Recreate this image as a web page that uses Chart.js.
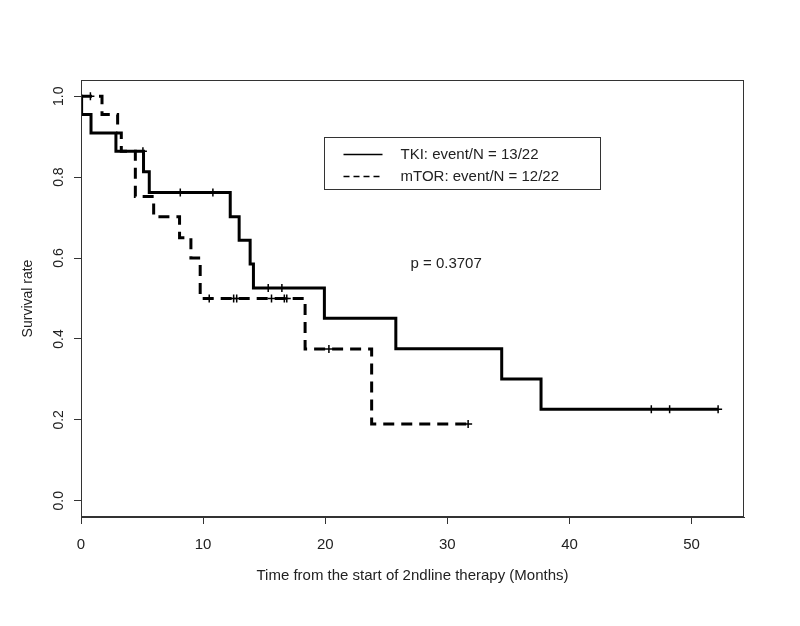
<!DOCTYPE html>
<html><head><meta charset="utf-8">
<script src="https://cdn.jsdelivr.net/npm/chart.js@4.4.1/dist/chart.umd.min.js"></script>
<style>html,body{margin:0;padding:0;background:#fff;}#wrap{width:800px;height:626px;}</style>
</head><body><div id="wrap"><canvas id="c" width="800" height="626"></canvas></div>
<script>
// ---- data ----
const xTicks = [0, 10, 20, 30, 40, 50];
const yTicks = [0, 0.2, 0.4, 0.6, 0.8, 1.0];
const yTickLabels = ['0.0', '0.2', '0.4', '0.6', '0.8', '1.0'];

const tkiTime = [0, 0.05, 0.82, 2.86, 5.12, 5.59, 12.22, 12.95, 13.85, 14.12, 19.93, 25.78, 34.45, 37.67, 52.17];
const tkiSurv = [1, 0.955, 0.909, 0.864, 0.813, 0.762, 0.702, 0.644, 0.585, 0.526, 0.451, 0.376, 0.301, 0.226, 0.226];
const tkiCensorTime = [5.07, 8.13, 10.8, 15.33, 16.45, 46.7, 48.2, 52.17];
const tkiCensorSurv = [0.864, 0.762, 0.762, 0.526, 0.526, 0.226, 0.226, 0.226];

const mtorTime = [0, 1.72, 3.0, 3.3, 4.45, 5.95, 8.07, 9.0, 9.76, 18.35, 23.8, 31.7];
const mtorSurv = [1, 0.955, 0.909, 0.864, 0.752, 0.702, 0.65, 0.60, 0.50, 0.375, 0.19, 0.19];
const mtorCensorTime = [0.77, 10.5, 12.5, 12.75, 15.6, 16.65, 16.85, 20.3, 31.7];
const mtorCensorSurv = [1, 0.5, 0.5, 0.5, 0.5, 0.5, 0.5, 0.375, 0.19];

const seriesNames = ['TKI: event/N = 13/22', 'mTOR: event/N = 12/22'];
const xTitle = 'Time from the start of 2ndline therapy (Months)';
const yTitle = 'Survival rate';
const pText = 'p = 0.3707';

// ---- styling / layout ----
const hFont = {family: '"Liberation Sans", Arial', size: 15};
const vFont = {family: '"Liberation Sans", Arial', size: 14};
const txt = '#222';
const axisCol = '#333';
const legendAt = [20, 0.9];
const pAt = [29.9, 0.585];

const pts = (xs, ys) => xs.map((v, i) => ({x: v, y: ys[i]}));

const overlay = {
  id: 'overlay',
  afterDraw(chart){
    const {ctx, chartArea: a, scales: {x, y}} = chart;
    ctx.save();
    ctx.strokeStyle = axisCol; ctx.lineWidth = 1; ctx.setLineDash([]);
    ctx.strokeRect(a.left + 0.5, a.top + 0.5, a.right - a.left - 1, a.bottom - a.top - 1);
    // legend
    const lx = Math.round(x.getPixelForValue(legendAt[0])) - 0.5;
    const ly = Math.round(y.getPixelForValue(legendAt[1])) + 0.5;
    ctx.strokeRect(lx, ly, 276, 52);
    ctx.font = hFont.size + 'px ' + hFont.family;
    ctx.fillStyle = txt; ctx.textBaseline = 'middle'; ctx.textAlign = 'left';
    const rows = [ly + 17, ly + 39];
    ctx.strokeStyle = '#000'; ctx.lineWidth = 1.5;
    ctx.beginPath(); ctx.moveTo(lx + 19, rows[0]); ctx.lineTo(lx + 58, rows[0]); ctx.stroke();
    ctx.setLineDash([6, 4]);
    ctx.beginPath(); ctx.moveTo(lx + 19, rows[1]); ctx.lineTo(lx + 58, rows[1]); ctx.stroke();
    ctx.setLineDash([]);
    ctx.fillText(seriesNames[0], lx + 76, rows[0]);
    ctx.fillText(seriesNames[1], lx + 76, rows[1]);
    // p value
    ctx.textAlign = 'center';
    ctx.fillText(pText, x.getPixelForValue(pAt[0]), y.getPixelForValue(pAt[1]));
    ctx.restore();
  }
};

new Chart(document.getElementById('c'), {
  type: 'scatter',
  data: {
    datasets: [
      {label: seriesNames[0], data: pts(tkiTime, tkiSurv), showLine: true, stepped: true,
       borderColor: '#000', borderWidth: 3, pointRadius: 0, fill: false, borderJoinStyle: 'miter'},
      {label: seriesNames[1], data: pts(mtorTime, mtorSurv), showLine: true, stepped: true,
       borderColor: '#000', borderWidth: 3, borderDash: [11, 7], pointRadius: 0, fill: false, borderJoinStyle: 'miter'},
      {label: 'tki censored', data: pts(tkiCensorTime, tkiCensorSurv), showLine: false,
       pointStyle: 'cross', pointRadius: 4, borderWidth: 1.5, borderColor: '#000'},
      {label: 'mtor censored', data: pts(mtorCensorTime, mtorCensorSurv), showLine: false,
       pointStyle: 'cross', pointRadius: 4, borderWidth: 1.5, borderColor: '#000'}
    ]
  },
  options: {
    responsive: false, animation: false, devicePixelRatio: 1,
    layout: {padding: {top: 80, right: 56, bottom: 0, left: 0}},
    plugins: {legend: {display: false}, tooltip: {enabled: false}},
    scales: {
      x: {
        type: 'linear', min: 0, max: 54.29,
        afterBuildTicks: s => { s.ticks = xTicks.map(v => ({value: v})); },
        afterFit: s => { s.height = 109; },
        grid: {drawOnChartArea: false, drawTicks: true, tickLength: 7, color: axisCol, lineWidth: 1},
        border: {display: true, color: axisCol, width: 1},
        ticks: {autoSkip: false, minRotation: 0, maxRotation: 0, padding: 12,
                color: txt, font: hFont, callback: v => String(v)},
        title: {display: true, text: xTitle, color: txt, font: hFont,
                padding: {top: 0, bottom: 41}}
      },
      y: {
        type: 'linear', min: -0.04, max: 1.04,
        afterBuildTicks: s => { s.ticks = yTicks.map(v => ({value: v})); },
        afterFit: s => { s.width = 81; },
        grid: {drawOnChartArea: false, drawTicks: true, tickLength: 7, color: axisCol, lineWidth: 1},
        border: {display: true, color: axisCol, width: 1},
        ticks: {autoSkip: false, minRotation: 90, maxRotation: 90, crossAlign: 'center', padding: 5,
                color: txt, font: vFont,
                callback: v => yTickLabels[yTicks.findIndex(t => Math.abs(t - v) < 1e-9)]},
        title: {display: true, text: yTitle, color: txt, font: vFont, padding: {top: 20, bottom: 0}}
      }
    }
  },
  plugins: [overlay]
});
</script>
</body></html>
